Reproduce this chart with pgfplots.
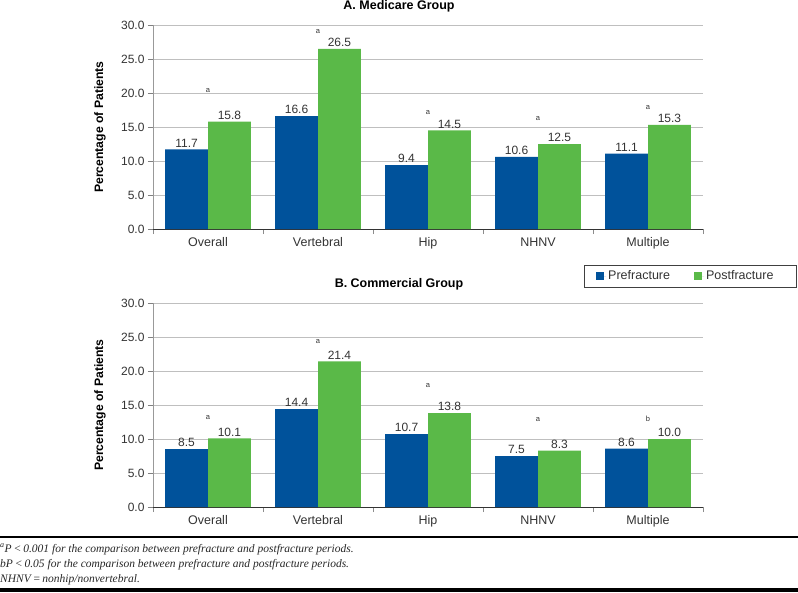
\documentclass[border=0pt]{standalone}
\usepackage{fontspec}
\setmainfont{Liberation Sans}
\newfontfamily\notefont{Liberation Serif}
\usepackage{pgfplots}
\pgfplotsset{compat=1.18}

\definecolor{preblue}{RGB}{0,82,155}
\definecolor{postgreen}{RGB}{90,185,72}
\definecolor{txt}{RGB}{51,51,51}

\tikzset{sig/.style={font=\fontsize{7.5}{8}\selectfont, text=txt}}

\pgfplotsset{
  fracbars/.style={
    width=550pt, height=204pt, scale only axis,
    ybar=0pt, bar width=0.39,
    xmin=-0.5, xmax=4.5, ymin=0, ymax=30,
    xtick={-0.5,0.5,...,4.5},
    x tick label as interval,
    xticklabels={Overall,Vertebral,Hip,NHNV,Multiple},
    ytick={0,5,...,30},
    axis x line*=bottom, axis y line*=left,
    x axis line style={-, color=black!80, line width=0.9pt},
    y axis line style={-, color=black!40, line width=0.9pt},
    tick align=outside,
    xtick style={color=black!45, line width=0.9pt},
    ytick style={color=black!50, line width=0.9pt},
    major tick length=5pt,
    ymajorgrids, grid style={color=black!25, line width=0.9pt},
    tick label style={font=\fontsize{12}{14}\selectfont, text=txt},
    xticklabel style={font=\fontsize{12.5}{14}\selectfont},
    /pgf/number format/fixed,
    /pgf/number format/fixed zerofill,
    /pgf/number format/precision=1,
    /pgf/number format/assume math mode=true,
    ylabel={Percentage of Patients},
    ylabel style={font=\fontsize{12.2}{14}\selectfont\bfseries,
      at={(axis description cs:-0.0964,0.5)}, anchor=center},
    nodes near coords,
    nodes near coords style={font=\fontsize{12}{14}\selectfont, text=txt, inner sep=2pt},
    legend image code/.code={\path (0pt,0pt) -- (10pt,0pt);\fill[#1] (0pt,-4pt) rectangle (8pt,4pt);},
  },
}

\begin{document}
\begin{tikzpicture}
\path[use as bounding box] (0,0) rectangle (798pt,-592pt);

% A. Medicare
\node[anchor=base, font=\fontsize{12.5}{14}\selectfont\bfseries] at (399pt,-9.5pt) {A. Medicare Group};
\begin{axis}[fracbars, at={(153pt,-229pt)}, anchor=south west]
\addplot[fill=preblue, draw=none] coordinates {(0,11.7) (1,16.6) (2,9.4) (3,10.6) (4,11.1)};
\addplot[fill=postgreen, draw=none] coordinates {(0,15.8) (1,26.5) (2,14.5) (3,12.5) (4,15.3)};
\node[sig] at (axis cs:0,20.4) {a};
\node[sig] at (axis cs:1,29.0) {a};
\node[sig] at (axis cs:2,17.1) {a};
\node[sig] at (axis cs:3,16.2) {a};
\node[sig] at (axis cs:4,17.9) {a};
\end{axis}

% B. Commercial
\node[anchor=base, font=\fontsize{12.5}{14}\selectfont\bfseries] at (399pt,-287pt) {B. Commercial Group};
\begin{axis}[fracbars, at={(153pt,-507pt)}, anchor=south west,
  legend columns=2,
  legend style={at={(rel axis cs:0.977,1.132)}, anchor=center,
    draw=black!75, line width=0.6pt,
    font=\fontsize{12.5}{14}\selectfont, text=txt,
    inner xsep=12pt, inner ysep=4pt,
    /tikz/every even column/.append style={column sep=22pt}},
]
\addplot[fill=preblue, draw=none] coordinates {(0,8.5) (1,14.4) (2,10.7) (3,7.5) (4,8.6)};
\addlegendentry{Prefracture}
\addplot[fill=postgreen, draw=none] coordinates {(0,10.1) (1,21.4) (2,13.8) (3,8.3) (4,10.0)};
\addlegendentry{Postfracture\hspace*{9pt}}
\node[sig] at (axis cs:0,13.2) {a};
\node[sig] at (axis cs:1,24.4) {a};
\node[sig] at (axis cs:2,17.8) {a};
\node[sig] at (axis cs:3,12.9) {a};
\node[sig] at (axis cs:4,12.9) {b};
\end{axis}

% footnotes
\draw[line width=1.6pt] (0pt,-537pt) -- (798pt,-537pt);
\begin{scope}[every node/.style={anchor=base west, inner sep=0pt, font=\notefont\itshape\fontsize{11.5}{13}\selectfont, text=black!85}]
\node at (0pt,-552pt) {\textsuperscript{a}P\,<\,0.001 for the comparison between prefracture and postfracture periods.};
\node at (0pt,-567pt) {bP\,<\,0.05 for the comparison between prefracture and postfracture periods.};
\node at (0pt,-582pt) {NHNV\,=\,nonhip/nonvertebral.};
\end{scope}
\fill[black] (0pt,-588pt) rectangle (798pt,-592pt);
\end{tikzpicture}
\end{document}
